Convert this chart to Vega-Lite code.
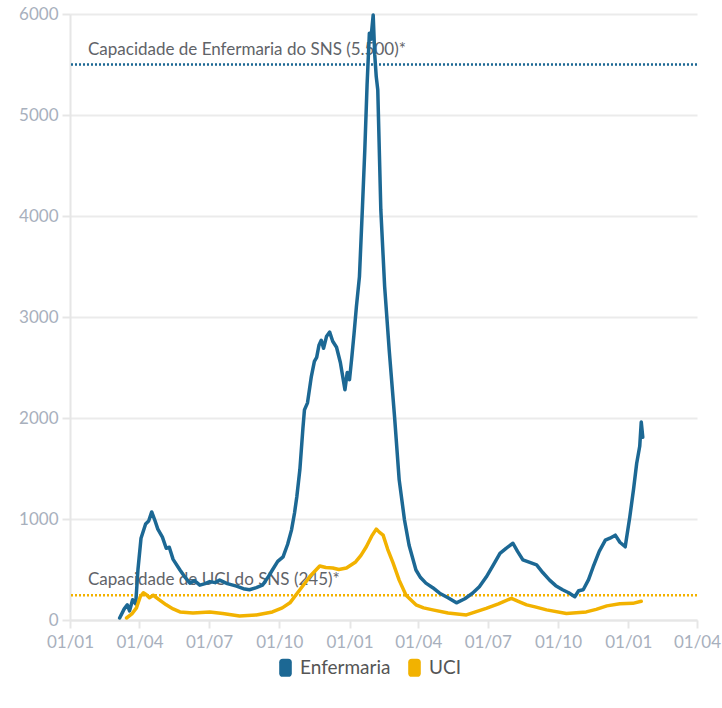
{
  "$schema": "https://vega.github.io/schema/vega-lite/v6.json",
  "width": 627,
  "height": 606,
  "autosize": {"type": "none"},
  "padding": {"left": 70, "top": 14, "right": 25, "bottom": 88},
  "background": "white",
  "config": {
    "font": "Lato",
    "view": {"stroke": null},
    "axis": {
      "labelFont": "Lato", "labelFontSize": 17, "labelColor": "#a8b0bd",
      "gridColor": "#ebebeb", "gridWidth": 2,
      "domainColor": "#e6e6e6", "domainWidth": 2,
      "tickColor": "#e6e6e6", "tickWidth": 2, "tickSize": 8,
      "title": null
    }
  },
  "datasets": {
    "series": [
      {"date": "2020-03-06", "serie": "Enfermaria", "valor": 20},
      {"date": "2020-03-12", "serie": "Enfermaria", "valor": 110},
      {"date": "2020-03-16", "serie": "Enfermaria", "valor": 150},
      {"date": "2020-03-19", "serie": "Enfermaria", "valor": 90},
      {"date": "2020-03-23", "serie": "Enfermaria", "valor": 200},
      {"date": "2020-03-27", "serie": "Enfermaria", "valor": 160},
      {"date": "2020-03-30", "serie": "Enfermaria", "valor": 500},
      {"date": "2020-04-03", "serie": "Enfermaria", "valor": 810},
      {"date": "2020-04-09", "serie": "Enfermaria", "valor": 950},
      {"date": "2020-04-13", "serie": "Enfermaria", "valor": 980},
      {"date": "2020-04-17", "serie": "Enfermaria", "valor": 1070},
      {"date": "2020-04-21", "serie": "Enfermaria", "valor": 990},
      {"date": "2020-04-25", "serie": "Enfermaria", "valor": 900},
      {"date": "2020-05-01", "serie": "Enfermaria", "valor": 820},
      {"date": "2020-05-06", "serie": "Enfermaria", "valor": 710},
      {"date": "2020-05-10", "serie": "Enfermaria", "valor": 720},
      {"date": "2020-05-15", "serie": "Enfermaria", "valor": 600},
      {"date": "2020-05-24", "serie": "Enfermaria", "valor": 495},
      {"date": "2020-05-30", "serie": "Enfermaria", "valor": 430},
      {"date": "2020-06-06", "serie": "Enfermaria", "valor": 365},
      {"date": "2020-06-12", "serie": "Enfermaria", "valor": 390},
      {"date": "2020-06-19", "serie": "Enfermaria", "valor": 345},
      {"date": "2020-06-26", "serie": "Enfermaria", "valor": 360},
      {"date": "2020-07-02", "serie": "Enfermaria", "valor": 380},
      {"date": "2020-07-09", "serie": "Enfermaria", "valor": 370},
      {"date": "2020-07-15", "serie": "Enfermaria", "valor": 395},
      {"date": "2020-07-25", "serie": "Enfermaria", "valor": 360},
      {"date": "2020-08-06", "serie": "Enfermaria", "valor": 335},
      {"date": "2020-08-15", "serie": "Enfermaria", "valor": 310},
      {"date": "2020-08-23", "serie": "Enfermaria", "valor": 300},
      {"date": "2020-09-01", "serie": "Enfermaria", "valor": 320},
      {"date": "2020-09-09", "serie": "Enfermaria", "valor": 345},
      {"date": "2020-09-16", "serie": "Enfermaria", "valor": 420},
      {"date": "2020-09-22", "serie": "Enfermaria", "valor": 495},
      {"date": "2020-09-29", "serie": "Enfermaria", "valor": 580},
      {"date": "2020-10-06", "serie": "Enfermaria", "valor": 625},
      {"date": "2020-10-12", "serie": "Enfermaria", "valor": 750},
      {"date": "2020-10-17", "serie": "Enfermaria", "valor": 890},
      {"date": "2020-10-21", "serie": "Enfermaria", "valor": 1060},
      {"date": "2020-10-24", "serie": "Enfermaria", "valor": 1220},
      {"date": "2020-10-28", "serie": "Enfermaria", "valor": 1490},
      {"date": "2020-11-01", "serie": "Enfermaria", "valor": 1900},
      {"date": "2020-11-03", "serie": "Enfermaria", "valor": 2080},
      {"date": "2020-11-07", "serie": "Enfermaria", "valor": 2150},
      {"date": "2020-11-12", "serie": "Enfermaria", "valor": 2410},
      {"date": "2020-11-16", "serie": "Enfermaria", "valor": 2560},
      {"date": "2020-11-19", "serie": "Enfermaria", "valor": 2600},
      {"date": "2020-11-22", "serie": "Enfermaria", "valor": 2720},
      {"date": "2020-11-25", "serie": "Enfermaria", "valor": 2770},
      {"date": "2020-11-28", "serie": "Enfermaria", "valor": 2690},
      {"date": "2020-12-02", "serie": "Enfermaria", "valor": 2810},
      {"date": "2020-12-06", "serie": "Enfermaria", "valor": 2850},
      {"date": "2020-12-10", "serie": "Enfermaria", "valor": 2760},
      {"date": "2020-12-15", "serie": "Enfermaria", "valor": 2700},
      {"date": "2020-12-20", "serie": "Enfermaria", "valor": 2550},
      {"date": "2020-12-26", "serie": "Enfermaria", "valor": 2280},
      {"date": "2020-12-29", "serie": "Enfermaria", "valor": 2450},
      {"date": "2021-01-01", "serie": "Enfermaria", "valor": 2380},
      {"date": "2021-01-04", "serie": "Enfermaria", "valor": 2600},
      {"date": "2021-01-07", "serie": "Enfermaria", "valor": 2840},
      {"date": "2021-01-10", "serie": "Enfermaria", "valor": 3100},
      {"date": "2021-01-14", "serie": "Enfermaria", "valor": 3400},
      {"date": "2021-01-18", "serie": "Enfermaria", "valor": 4100},
      {"date": "2021-01-21", "serie": "Enfermaria", "valor": 4650},
      {"date": "2021-01-24", "serie": "Enfermaria", "valor": 5300},
      {"date": "2021-01-27", "serie": "Enfermaria", "valor": 5810},
      {"date": "2021-01-29", "serie": "Enfermaria", "valor": 5750},
      {"date": "2021-02-01", "serie": "Enfermaria", "valor": 5990},
      {"date": "2021-02-03", "serie": "Enfermaria", "valor": 5600},
      {"date": "2021-02-05", "serie": "Enfermaria", "valor": 5380},
      {"date": "2021-02-07", "serie": "Enfermaria", "valor": 5250},
      {"date": "2021-02-11", "serie": "Enfermaria", "valor": 4060},
      {"date": "2021-02-16", "serie": "Enfermaria", "valor": 3300},
      {"date": "2021-02-22", "serie": "Enfermaria", "valor": 2670},
      {"date": "2021-03-01", "serie": "Enfermaria", "valor": 2010},
      {"date": "2021-03-07", "serie": "Enfermaria", "valor": 1390},
      {"date": "2021-03-14", "serie": "Enfermaria", "valor": 990},
      {"date": "2021-03-20", "serie": "Enfermaria", "valor": 740},
      {"date": "2021-03-29", "serie": "Enfermaria", "valor": 495},
      {"date": "2021-04-04", "serie": "Enfermaria", "valor": 420},
      {"date": "2021-04-11", "serie": "Enfermaria", "valor": 365},
      {"date": "2021-04-20", "serie": "Enfermaria", "valor": 320},
      {"date": "2021-04-29", "serie": "Enfermaria", "valor": 265},
      {"date": "2021-05-10", "serie": "Enfermaria", "valor": 220},
      {"date": "2021-05-21", "serie": "Enfermaria", "valor": 170},
      {"date": "2021-06-01", "serie": "Enfermaria", "valor": 210},
      {"date": "2021-06-11", "serie": "Enfermaria", "valor": 265},
      {"date": "2021-06-20", "serie": "Enfermaria", "valor": 330},
      {"date": "2021-06-29", "serie": "Enfermaria", "valor": 425},
      {"date": "2021-07-08", "serie": "Enfermaria", "valor": 540},
      {"date": "2021-07-17", "serie": "Enfermaria", "valor": 660},
      {"date": "2021-07-25", "serie": "Enfermaria", "valor": 710},
      {"date": "2021-08-03", "serie": "Enfermaria", "valor": 760},
      {"date": "2021-08-09", "serie": "Enfermaria", "valor": 680},
      {"date": "2021-08-16", "serie": "Enfermaria", "valor": 595},
      {"date": "2021-08-25", "serie": "Enfermaria", "valor": 570},
      {"date": "2021-09-03", "serie": "Enfermaria", "valor": 545},
      {"date": "2021-09-11", "serie": "Enfermaria", "valor": 470},
      {"date": "2021-09-20", "serie": "Enfermaria", "valor": 395},
      {"date": "2021-09-28", "serie": "Enfermaria", "valor": 340},
      {"date": "2021-10-07", "serie": "Enfermaria", "valor": 300},
      {"date": "2021-10-15", "serie": "Enfermaria", "valor": 270},
      {"date": "2021-10-23", "serie": "Enfermaria", "valor": 230},
      {"date": "2021-10-28", "serie": "Enfermaria", "valor": 290},
      {"date": "2021-11-03", "serie": "Enfermaria", "valor": 300},
      {"date": "2021-11-10", "serie": "Enfermaria", "valor": 400},
      {"date": "2021-11-16", "serie": "Enfermaria", "valor": 525},
      {"date": "2021-11-24", "serie": "Enfermaria", "valor": 680},
      {"date": "2021-12-02", "serie": "Enfermaria", "valor": 790},
      {"date": "2021-12-08", "serie": "Enfermaria", "valor": 810},
      {"date": "2021-12-15", "serie": "Enfermaria", "valor": 840},
      {"date": "2021-12-21", "serie": "Enfermaria", "valor": 770},
      {"date": "2021-12-28", "serie": "Enfermaria", "valor": 725},
      {"date": "2022-01-03", "serie": "Enfermaria", "valor": 1020},
      {"date": "2022-01-08", "serie": "Enfermaria", "valor": 1300},
      {"date": "2022-01-12", "serie": "Enfermaria", "valor": 1550},
      {"date": "2022-01-16", "serie": "Enfermaria", "valor": 1720},
      {"date": "2022-01-18", "serie": "Enfermaria", "valor": 1960},
      {"date": "2022-01-20", "serie": "Enfermaria", "valor": 1810},
      {"date": "2020-03-15", "serie": "UCI", "valor": 20},
      {"date": "2020-03-22", "serie": "UCI", "valor": 60},
      {"date": "2020-03-28", "serie": "UCI", "valor": 120},
      {"date": "2020-04-02", "serie": "UCI", "valor": 230},
      {"date": "2020-04-06", "serie": "UCI", "valor": 270},
      {"date": "2020-04-10", "serie": "UCI", "valor": 250},
      {"date": "2020-04-14", "serie": "UCI", "valor": 220},
      {"date": "2020-04-19", "serie": "UCI", "valor": 245},
      {"date": "2020-04-27", "serie": "UCI", "valor": 200},
      {"date": "2020-05-06", "serie": "UCI", "valor": 150},
      {"date": "2020-05-15", "serie": "UCI", "valor": 110},
      {"date": "2020-05-24", "serie": "UCI", "valor": 80},
      {"date": "2020-06-10", "serie": "UCI", "valor": 70},
      {"date": "2020-07-02", "serie": "UCI", "valor": 80},
      {"date": "2020-07-19", "serie": "UCI", "valor": 65},
      {"date": "2020-08-10", "serie": "UCI", "valor": 40},
      {"date": "2020-09-01", "serie": "UCI", "valor": 50},
      {"date": "2020-09-22", "serie": "UCI", "valor": 80},
      {"date": "2020-10-05", "serie": "UCI", "valor": 120},
      {"date": "2020-10-15", "serie": "UCI", "valor": 170},
      {"date": "2020-10-28", "serie": "UCI", "valor": 300},
      {"date": "2020-11-10", "serie": "UCI", "valor": 430},
      {"date": "2020-11-23", "serie": "UCI", "valor": 535},
      {"date": "2020-12-01", "serie": "UCI", "valor": 520},
      {"date": "2020-12-10", "serie": "UCI", "valor": 515},
      {"date": "2020-12-18", "serie": "UCI", "valor": 500},
      {"date": "2020-12-28", "serie": "UCI", "valor": 515},
      {"date": "2021-01-09", "serie": "UCI", "valor": 575},
      {"date": "2021-01-16", "serie": "UCI", "valor": 640},
      {"date": "2021-01-23", "serie": "UCI", "valor": 725},
      {"date": "2021-01-30", "serie": "UCI", "valor": 830},
      {"date": "2021-02-05", "serie": "UCI", "valor": 900},
      {"date": "2021-02-09", "serie": "UCI", "valor": 870},
      {"date": "2021-02-14", "serie": "UCI", "valor": 840},
      {"date": "2021-02-20", "serie": "UCI", "valor": 700},
      {"date": "2021-02-27", "serie": "UCI", "valor": 565},
      {"date": "2021-03-07", "serie": "UCI", "valor": 395},
      {"date": "2021-03-16", "serie": "UCI", "valor": 245},
      {"date": "2021-03-29", "serie": "UCI", "valor": 150},
      {"date": "2021-04-08", "serie": "UCI", "valor": 120},
      {"date": "2021-04-20", "serie": "UCI", "valor": 100},
      {"date": "2021-05-10", "serie": "UCI", "valor": 70},
      {"date": "2021-06-03", "serie": "UCI", "valor": 50},
      {"date": "2021-06-15", "serie": "UCI", "valor": 80},
      {"date": "2021-06-29", "serie": "UCI", "valor": 115},
      {"date": "2021-07-15", "serie": "UCI", "valor": 160},
      {"date": "2021-08-01", "serie": "UCI", "valor": 215},
      {"date": "2021-08-10", "serie": "UCI", "valor": 185},
      {"date": "2021-08-21", "serie": "UCI", "valor": 150},
      {"date": "2021-09-01", "serie": "UCI", "valor": 130},
      {"date": "2021-09-16", "serie": "UCI", "valor": 100},
      {"date": "2021-10-12", "serie": "UCI", "valor": 65},
      {"date": "2021-11-07", "serie": "UCI", "valor": 80},
      {"date": "2021-11-20", "serie": "UCI", "valor": 105},
      {"date": "2021-12-04", "serie": "UCI", "valor": 140},
      {"date": "2021-12-21", "serie": "UCI", "valor": 160},
      {"date": "2022-01-07", "serie": "UCI", "valor": 165},
      {"date": "2022-01-18", "serie": "UCI", "valor": 185}
    ],
    "capacidade": [
      {"serie": "Enfermaria", "valor": 5500, "date": "2020-01-01", "texto": "Capacidade de Enfermaria do SNS (5.500)*"},
      {"serie": "UCI", "valor": 245, "date": "2020-01-01", "texto": "Capacidade de UCI do SNS (245)*"}
    ]
  },
  "encoding": {
    "x": {
      "field": "date", "type": "temporal",
      "scale": {"type": "utc", "domain": ["2020-01-01", "2022-04-01"]},
      "axis": {
        "labelExpr": "utcFormat(datum.value, '%d/%m')", "grid": false, "labelPadding": 6, "labelOverlap": false, "labelFlush": false,
        "values": [
          {"year": 2020, "month": 1, "date": 1, "utc": true},
          {"year": 2020, "month": 4, "date": 1, "utc": true},
          {"year": 2020, "month": 7, "date": 1, "utc": true},
          {"year": 2020, "month": 10, "date": 1, "utc": true},
          {"year": 2021, "month": 1, "date": 1, "utc": true},
          {"year": 2021, "month": 4, "date": 1, "utc": true},
          {"year": 2021, "month": 7, "date": 1, "utc": true},
          {"year": 2021, "month": 10, "date": 1, "utc": true},
          {"year": 2022, "month": 1, "date": 1, "utc": true},
          {"year": 2022, "month": 4, "date": 1, "utc": true}
        ]
      }
    },
    "y": {
      "field": "valor", "type": "quantitative",
      "scale": {"domain": [0, 6000], "nice": false},
      "axis": {"values": [0, 1000, 2000, 3000, 4000, 5000, 6000], "format": "d", "labelPadding": 4, "grid": true, "domain": true}
    },
    "color": {
      "field": "serie", "type": "nominal",
      "scale": {"domain": ["Enfermaria", "UCI"], "range": ["#1c6894", "#f2b200"]},
      "legend": {
        "title": null, "orient": "none", "legendX": 206, "legendY": 644, "direction": "horizontal",
        "symbolType": "M-0.3,-1L0.3,-1Q0.7,-1,0.7,-0.6L0.7,0.6Q0.7,1,0.3,1L-0.3,1Q-0.7,1,-0.7,0.6L-0.7,-0.6Q-0.7,-1,-0.3,-1Z",
        "symbolSize": 324, "symbolStrokeWidth": 0, "symbolOpacity": 1,
        "labelFont": "Lato", "labelFontSize": 19, "labelColor": "#555555", "columnPadding": 14, "labelOffset": 5,
        "encode": {"symbols": {"update": {
          "fill": {"scale": "color", "field": "value"}, "fillOpacity": {"value": 1}, "strokeWidth": {"value": 0},
          "size": {"value": 324},
          "shape": {"value": "M-0.3,-1L0.3,-1Q0.7,-1,0.7,-0.6L0.7,0.6Q0.7,1,0.3,1L-0.3,1Q-0.7,1,-0.7,0.6L-0.7,-0.6Q-0.7,-1,-0.3,-1Z"}
        }}}
      }
    }
  },
  "layer": [
    {
      "data": {"name": "capacidade"},
      "mark": {"type": "text", "align": "left", "baseline": "alphabetic", "dx": 18, "dy": -10, "fontSize": 17, "font": "Lato"},
      "encoding": {
        "text": {"field": "texto"},
        "color": {"value": "#5f6368"}
      }
    },
    {
      "data": {"name": "capacidade"},
      "mark": {"type": "rule", "strokeWidth": 2.5, "strokeDash": [2, 2]},
      "encoding": {"x": null}
    },
    {
      "data": {"name": "series"},
      "mark": {"type": "line", "strokeWidth": 3.5, "strokeJoin": "round", "strokeCap": "round"}
    }
  ]
}
